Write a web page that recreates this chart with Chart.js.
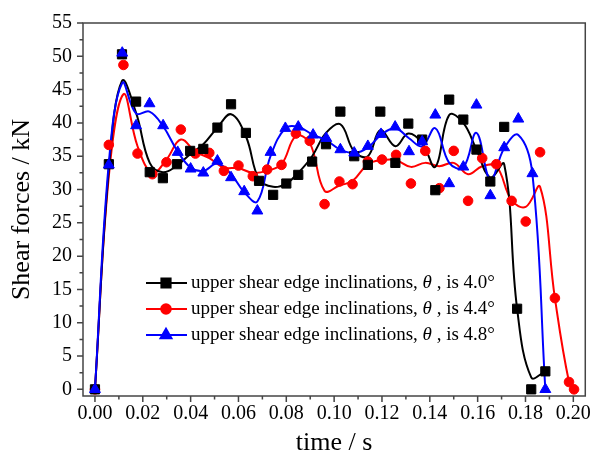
<!DOCTYPE html>
<html>
<head>
<meta charset="utf-8">
<script src="https://cdn.jsdelivr.net/npm/chart.js@4/dist/chart.umd.min.js"></script>
<style>
  html, body { margin: 0; padding: 0; background: #fff; }
  #wrap { width: 597px; height: 459px; }
</style>
</head>
<body>
<div id="wrap"><canvas id="myChart" width="597" height="459"></canvas></div>
<script>
// time (s) and shear force (kN)
var time40 = [0, 0.0058, 0.0113, 0.0172, 0.0229, 0.0284, 0.0343, 0.0398, 0.0453, 0.0512, 0.0569, 0.0631,
  0.0686, 0.0745, 0.0800, 0.0850, 0.0908, 0.0966, 0.1026, 0.1084, 0.1141, 0.1193, 0.1256, 0.1310,
  0.1368, 0.1423, 0.1481, 0.1540, 0.1595, 0.1653, 0.1711, 0.1765, 0.1824, 0.1883];
var force40 = [0, 33.8, 50.3, 43.2, 32.6, 31.7, 33.8, 35.8, 36.1, 39.3, 42.8, 38.5,
  31.3, 29.2, 30.9, 32.2, 34.2, 36.8, 41.7, 35.0, 33.7, 41.7, 34.0, 39.9,
  37.5, 29.9, 43.5, 40.5, 36.0, 31.2, 39.4, 12.1, 0, 2.7];
// smoothed curve drawn through the 4.0° points, read at the same times
var curve40 = [0, 33, 46.3, 41.5, 34, 32.6, 33.6, 35.3, 36.8, 39.3, 41.3, 38,
  31.5, 30.4, 30.9, 32.5, 35, 38.5, 39.8, 35.7, 35.0, 38.9, 36.5, 38.4,
  37.0, 33.4, 41.2, 40.0, 36.0, 31.8, 33.8, 12.1, 1.8, 2.7];

var time44 = [0, 0.0058, 0.0119, 0.0178, 0.0240, 0.0299, 0.0359, 0.0420, 0.0478, 0.0539, 0.0600, 0.0660,
  0.0720, 0.0780, 0.0840, 0.0898, 0.0960, 0.1022, 0.1077, 0.1141, 0.1200, 0.1259, 0.1321, 0.1381,
  0.1440, 0.1500, 0.1560, 0.1619, 0.1678, 0.1742, 0.1801, 0.1861, 0.1923, 0.1982, 0.2003];
var force44 = [0, 36.7, 48.7, 35.4, 32.3, 34.1, 39.0, 35.4, 35.5, 32.8, 33.6, 32.0,
  33.0, 33.7, 38.4, 37.3, 27.8, 31.2, 30.8, 34.2, 34.5, 35.2, 30.9, 35.8,
  30.2, 35.8, 28.3, 34.7, 33.8, 28.3, 25.2, 35.6, 13.7, 1.1, 0];
var curve44 = [0, 32, 44.3, 36.5, 32.5, 34.5, 37.5, 35.7, 34.7, 33.3, 33.2, 32.5,
  32.8, 33.8, 38.0, 37.0, 29.8, 30.6, 31.3, 33.8, 34.4, 34.4, 33.4, 34.0,
  33.5, 34.0, 32.3, 33.5, 33.5, 28.4, 27.4, 30.4, 13.7, 1.1, 0];

var time48 = [0, 0.0058, 0.0114, 0.0172, 0.0228, 0.0285, 0.0346, 0.0400, 0.0453, 0.0512, 0.0569, 0.0624,
  0.0679, 0.0734, 0.0796, 0.0850, 0.0912, 0.0967, 0.1026, 0.1084, 0.1141, 0.1196, 0.1255, 0.1313,
  0.1368, 0.1423, 0.1481, 0.1540, 0.1595, 0.1653, 0.1711, 0.1770, 0.1829, 0.1883];
var force48 = [0, 33.7, 50.5, 39.6, 42.9, 39.6, 35.6, 33.1, 32.5, 34.3, 31.8, 29.7,
  26.8, 35.6, 39.2, 39.4, 38.2, 37.7, 36.0, 35.5, 36.5, 38.3, 39.4, 35.7,
  37.2, 41.2, 30.9, 33.4, 42.7, 29.1, 36.3, 40.6, 32.4, 0];
var curve48 = [0, 34, 46.0, 41.4, 41.7, 39.5, 35.7, 33.3, 32.8, 33.9, 32.3, 29.6,
  28.2, 35.0, 39.2, 39.4, 38.2, 37.4, 36.0, 35.5, 36.3, 38.2, 39.2, 37.7,
  36.5, 39.2, 34.0, 33.3, 38.5, 31.5, 36.2, 38.2, 32.3, 0];

var xTicks = [0, 0.02, 0.04, 0.06, 0.08, 0.10, 0.12, 0.14, 0.16, 0.18, 0.20];
var yTicks = [0, 5, 10, 15, 20, 25, 30, 35, 40, 45, 50, 55];
var angles = ['4.0°', '4.4°', '4.8°'];
var colors = ['#000000', '#ff0000', '#0000ff'];
var shapes = ['rect', 'circle', 'triangle'];
var sizes = [6.5, 4.8, 6.3];

var serif = "'Liberation Serif', 'DejaVu Serif', serif";

function pts(xs, ys) {
  return xs.map(function (x, i) { return { x: x, y: ys[i] }; });
}

// box, outward tick marks and the legend with italic theta
var extras = {
  id: 'extras',
  afterDraw: function (chart) {
    var ctx = chart.ctx, a = chart.chartArea;
    var sx = chart.scales.x, sy = chart.scales.y;
    ctx.save();
    ctx.strokeStyle = '#444';
    ctx.lineWidth = 1.5;
    ctx.strokeRect(a.left, a.top, a.right - a.left, a.bottom - a.top);
    ctx.beginPath();
    xTicks.forEach(function (v, i) {
      var px = sx.getPixelForValue(v);
      ctx.moveTo(px, a.bottom); ctx.lineTo(px, a.bottom + 6);
      if (i < xTicks.length - 1) {
        var m = sx.getPixelForValue((v + xTicks[i + 1]) / 2);
        ctx.moveTo(m, a.bottom); ctx.lineTo(m, a.bottom + 3.5);
      }
    });
    yTicks.forEach(function (v, i) {
      var py = sy.getPixelForValue(v);
      ctx.moveTo(a.left, py); ctx.lineTo(a.left - 6, py);
      if (i < yTicks.length - 1) {
        var m = sy.getPixelForValue((v + yTicks[i + 1]) / 2);
        ctx.moveTo(a.left, m); ctx.lineTo(a.left - 3.5, m);
      }
    });
    ctx.stroke();

    // legend
    var rows = [283, 309, 335];
    angles.forEach(function (ang, i) {
      var y = rows[i];
      ctx.strokeStyle = colors[i];
      ctx.lineWidth = 2;
      ctx.beginPath(); ctx.moveTo(146, y); ctx.lineTo(187, y); ctx.stroke();
      ctx.fillStyle = colors[i];
      Chart.helpers.drawPoint(ctx, { pointStyle: shapes[i], radius: sizes[i], rotation: 0, borderWidth: 1 }, 166, y);
      ctx.fillStyle = '#000';
      ctx.textBaseline = 'middle';
      ctx.textAlign = 'left';
      var x = 191;
      var p1 = 'upper shear edge inclinations, ';
      ctx.font = "19px " + serif;
      ctx.fillText(p1, x, y); x += ctx.measureText(p1).width;
      ctx.font = "italic 19px " + serif;
      ctx.fillText('θ', x, y); x += ctx.measureText('θ').width;
      ctx.font = "19px " + serif;
      ctx.fillText(' , is ' + ang, x, y);
    });
    ctx.restore();
  }
};

function markerSet(label, xs, ys, i, order) {
  return {
    label: label, data: pts(xs, ys), showLine: false,
    borderColor: colors[i], backgroundColor: colors[i], pointBackgroundColor: colors[i],
    pointStyle: shapes[i], pointRadius: sizes[i], pointBorderWidth: 1, order: order
  };
}
function curveSet(xs, ys, i, order) {
  return {
    label: 'fit ' + angles[i], data: pts(xs, ys), showLine: true, tension: 0.4,
    borderColor: colors[i], backgroundColor: colors[i], borderWidth: 2,
    pointRadius: 0, order: order
  };
}

var ctx = document.getElementById('myChart').getContext('2d');
var myChart = new Chart(ctx, {
  type: 'scatter',
  data: {
    datasets: [
      markerSet('upper shear edge inclinations, θ , is 4.8°', time48, force48, 2, 0),
      markerSet('upper shear edge inclinations, θ , is 4.0°', time40, force40, 0, 1),
      markerSet('upper shear edge inclinations, θ , is 4.4°', time44, force44, 1, 2),
      curveSet(time48, curve48, 2, 3),
      curveSet(time40, curve40, 0, 4),
      curveSet(time44, curve44, 1, 5)
    ]
  },
  options: {
    responsive: false,
    animation: false,
    layout: { padding: { top: 16, right: 4, left: 0, bottom: 0 } },
    plugins: { legend: { display: false }, tooltip: { enabled: false } },
    scales: {
      x: {
        type: 'linear', min: -0.005, max: 0.205,
        afterBuildTicks: function (s) { s.ticks = xTicks.map(function (v) { return { value: v }; }); },
        afterFit: function (s) { s.height = 63; },
        ticks: { callback: function (v) { return v.toFixed(2); }, font: { family: serif, size: 20 }, color: '#000', padding: 6, maxRotation: 0, autoSkip: false },
        grid: { display: false, drawTicks: false },
        border: { display: false },
        title: { display: true, text: 'time / s', color: '#000', font: { family: serif, size: 26 }, padding: { top: 2, bottom: 0 } }
      },
      y: {
        type: 'linear', min: -1, max: 55,
        afterBuildTicks: function (s) { s.ticks = yTicks.map(function (v) { return { value: v }; }); },
        afterFit: function (s) { s.width = 83; },
        ticks: { font: { family: serif, size: 20 }, color: '#000', padding: 11, autoSkip: false },
        grid: { display: false, drawTicks: false },
        border: { display: false },
        title: { display: true, text: 'Shear forces / kN', color: '#000', font: { family: serif, size: 26 }, padding: { top: 7, bottom: 0 } }
      }
    }
  },
  plugins: [extras]
});
</script>
</body>
</html>
